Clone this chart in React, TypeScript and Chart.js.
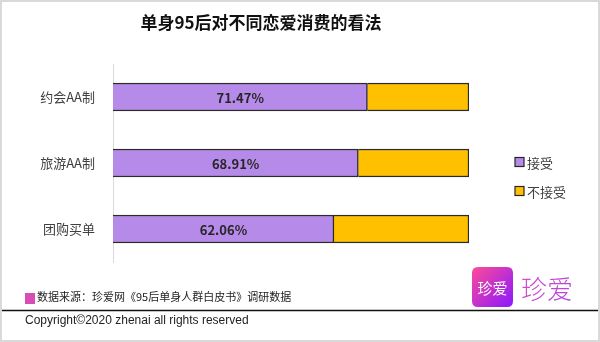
import React, { useEffect, useRef } from "react";
import { Chart, registerables } from "chart.js";
Chart.register(...registerables);

const categories = ["约会AA制", "旅游AA制", "团购买单"];
const acceptValues = [71.47, 68.91, 62.06];
const rejectValues = [28.53, 31.09, 37.94];
const seriesNames = ["接受", "不接受"];
const seriesColors = ["#b68ae8", "#ffc000"];
const titleText = "单身95后对不同恋爱消费的看法";
const sourceText = "数据来源：珍爱网《95后单身人群白皮书》调研数据";
const copyrightText = "Copyright©2020 zhenai all rights reserved";
const logoText = "珍爱";

const CJK = "'Noto Sans CJK SC', 'Microsoft YaHei', sans-serif";
const LATIN = "'Liberation Sans', 'Noto Sans', sans-serif";

function roundRectPath(ctx: CanvasRenderingContext2D, x: number, y: number, w: number, h: number, r: number) {
  ctx.beginPath();
  ctx.moveTo(x + r, y);
  ctx.lineTo(x + w - r, y);
  ctx.quadraticCurveTo(x + w, y, x + w, y + r);
  ctx.lineTo(x + w, y + h - r);
  ctx.quadraticCurveTo(x + w, y + h, x + w - r, y + h);
  ctx.lineTo(x + r, y + h);
  ctx.quadraticCurveTo(x, y + h, x, y + h - r);
  ctx.lineTo(x, y + r);
  ctx.quadraticCurveTo(x, y, x + r, y);
  ctx.closePath();
}

const decorPlugin = {
  id: "decor",
  beforeDraw(chart: any) {
    const ctx = chart.ctx as CanvasRenderingContext2D;
    ctx.save();
    ctx.fillStyle = "#ffffff";
    ctx.fillRect(0, 0, chart.width, chart.height);
    ctx.restore();
  },
  afterDatasetsDraw(chart: any) {
    const ctx = chart.ctx as CanvasRenderingContext2D;
    const meta = chart.getDatasetMeta(0);
    ctx.save();
    ctx.font = `bold 13px ${CJK}`;
    ctx.fillStyle = "#262626";
    ctx.textAlign = "center";
    ctx.textBaseline = "middle";
    meta.data.forEach((bar: any, i: number) => {
      const p = bar.getProps(["x", "y", "base"], true);
      ctx.fillText(acceptValues[i].toFixed(2) + "%", (p.x + p.base) / 2, p.y + 1);
    });
    ctx.restore();
  },
  afterDraw(chart: any) {
    const ctx = chart.ctx as CanvasRenderingContext2D;
    const W = chart.width;
    const H = chart.height;
    ctx.save();
    // title
    ctx.font = `bold 17px ${CJK}`;
    ctx.fillStyle = "#111111";
    ctx.textAlign = "center";
    ctx.textBaseline = "middle";
    ctx.fillText(titleText, 261, 23);

    // legend
    const legendY = [162, 191];
    seriesNames.forEach((name, i) => {
      ctx.fillStyle = seriesColors[i];
      ctx.fillRect(515, legendY[i] - 4.5, 9, 9);
      ctx.strokeStyle = "#262626";
      ctx.lineWidth = 1.2;
      ctx.strokeRect(515, legendY[i] - 4.5, 9, 9);
      ctx.fillStyle = "#404040";
      ctx.font = `13px ${CJK}`;
      ctx.textAlign = "left";
      ctx.textBaseline = "middle";
      ctx.fillText(name, 527, legendY[i] + 1);
    });

    // source
    ctx.fillStyle = "#d64db3";
    ctx.fillRect(25, 293, 10, 11);
    ctx.fillStyle = "#222222";
    ctx.font = `11px ${CJK}`;
    ctx.textAlign = "left";
    ctx.textBaseline = "middle";
    ctx.fillText(sourceText, 37, 297);

    // separator line
    ctx.strokeStyle = "#111111";
    ctx.lineWidth = 1.5;
    ctx.beginPath();
    ctx.moveTo(0, 310.5);
    ctx.lineTo(W - 2, 310.5);
    ctx.stroke();

    // copyright
    ctx.fillStyle = "#222222";
    ctx.font = `12px ${LATIN}`;
    ctx.fillText(copyrightText, 25, 321);

    // logo
    const g = ctx.createLinearGradient(472, 267, 513, 307);
    g.addColorStop(0, "#ff4b98");
    g.addColorStop(1, "#8a18ff");
    ctx.fillStyle = g;
    roundRectPath(ctx, 472, 267, 41, 40, 6);
    ctx.fill();
    ctx.fillStyle = "#ffffff";
    ctx.font = `15px ${CJK}`;
    ctx.textAlign = "center";
    ctx.fillText(logoText, 492.5, 288);
    const g2 = ctx.createLinearGradient(522, 272, 572, 305);
    g2.addColorStop(0, "#d84cc8");
    g2.addColorStop(1, "#b045e0");
    ctx.fillStyle = g2;
    ctx.font = `300 26px ${CJK}`;
    ctx.textAlign = "left";
    ctx.fillText(logoText, 521, 289);

    // outer border
    ctx.strokeStyle = "#d9d9d9";
    ctx.lineWidth = 2;
    ctx.strokeRect(1, 1, W - 2, H - 2);
    ctx.restore();
  },
};

export default function App() {
  const ref = useRef<HTMLCanvasElement | null>(null);
  useEffect(() => {
    if (!ref.current) return;
    const chart = new Chart(ref.current, {
      type: "bar",
      data: {
        labels: categories,
        datasets: [
          {
            label: seriesNames[0],
            data: acceptValues,
            backgroundColor: seriesColors[0],
            borderColor: "#2b2b2b",
            borderWidth: 1.5,
            barThickness: 28,
          },
          {
            label: seriesNames[1],
            data: rejectValues,
            backgroundColor: seriesColors[1],
            borderColor: "#2b2b2b",
            borderWidth: 1.5,
            barThickness: 28,
          },
        ],
      },
      options: {
        indexAxis: "y",
        animation: false,
        responsive: false,
        maintainAspectRatio: false,
        devicePixelRatio: 1,
        layout: { padding: { left: 0, right: 131, top: 64, bottom: 80 } },
        plugins: {
          legend: { display: false },
          title: { display: false },
          tooltip: { enabled: false },
        },
        scales: {
          x: { stacked: true, min: 0, max: 100, display: false },
          y: {
            stacked: true,
            grid: { display: false },
            border: { display: true, color: "#d9d9d9", width: 1 },
            ticks: { font: { family: CJK, size: 13 }, color: "#404040", padding: 10 },
            afterFit(scale: any) {
              scale.width = 113;
            },
          },
        },
      },
      plugins: [decorPlugin],
    } as any);
    return () => chart.destroy();
  }, []);
  return (
    <div style={{ position: "fixed", left: 0, top: 0, width: 600, height: 342 }}>
      <canvas ref={ref} width={600} height={342} style={{ width: 600, height: 342 }} />
    </div>
  );
}
